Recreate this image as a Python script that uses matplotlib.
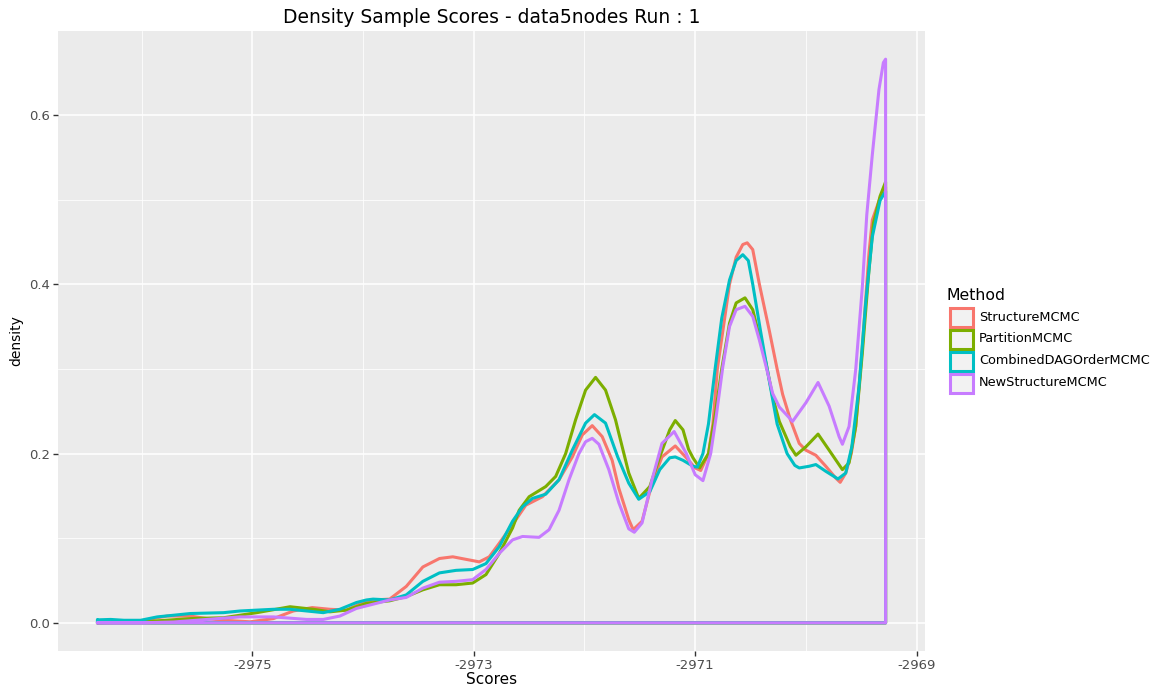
import matplotlib
matplotlib.use("Agg")
import matplotlib.pyplot as plt
from matplotlib.patches import Rectangle
from matplotlib.ticker import FixedLocator

# ---------------- data ----------------
methods = ["StructureMCMC", "PartitionMCMC", "CombinedDAGOrderMCMC", "NewStructureMCMC"]
colors = ["#F8766D", "#7CAE00", "#00BFC4", "#C77CFF"]

structure_mcmc = [
    (-2976.40, 0.000), (-2976.16, 0.0015), (-2976.01, 0.002), (-2975.86, 0.006), (-2975.77, 0.008),
    (-2975.56, 0.008), (-2975.41, 0.005), (-2975.26, 0.003), (-2975.02, 0.0012), (-2974.81, 0.005),
    (-2974.63, 0.014), (-2974.46, 0.018), (-2974.30, 0.016), (-2974.15, 0.015), (-2974.00, 0.024),
    (-2973.91, 0.027), (-2973.76, 0.028), (-2973.61, 0.043), (-2973.46, 0.066), (-2973.31, 0.076),
    (-2973.19, 0.078), (-2973.07, 0.075), (-2972.95, 0.072), (-2972.86, 0.078), (-2972.77, 0.094),
    (-2972.65, 0.116), (-2972.53, 0.139), (-2972.38, 0.149), (-2972.23, 0.169), (-2972.11, 0.196),
    (-2972.02, 0.222), (-2971.93, 0.233), (-2971.84, 0.220), (-2971.75, 0.192), (-2971.69, 0.159),
    (-2971.60, 0.122), (-2971.56, 0.110), (-2971.48, 0.120), (-2971.39, 0.165), (-2971.30, 0.196),
    (-2971.18, 0.209), (-2971.08, 0.195), (-2971.00, 0.183), (-2970.95, 0.180), (-2970.88, 0.200),
    (-2970.84, 0.235), (-2970.80, 0.300), (-2970.75, 0.345), (-2970.69, 0.400), (-2970.63, 0.432),
    (-2970.57, 0.447), (-2970.53, 0.449), (-2970.48, 0.441), (-2970.42, 0.400), (-2970.33, 0.345),
    (-2970.26, 0.300), (-2970.21, 0.270), (-2970.14, 0.240), (-2970.06, 0.212), (-2970.00, 0.204),
    (-2969.91, 0.198), (-2969.82, 0.185), (-2969.73, 0.171), (-2969.69, 0.166), (-2969.64, 0.177),
    (-2969.59, 0.200), (-2969.55, 0.232), (-2969.49, 0.326), (-2969.43, 0.437), (-2969.40, 0.476),
    (-2969.33, 0.502), (-2969.28, 0.515),
]

partition_mcmc = [
    (-2976.40, 0.000), (-2976.01, 0.001), (-2975.56, 0.005), (-2975.26, 0.006), (-2974.96, 0.012),
    (-2974.66, 0.019), (-2974.45, 0.016), (-2974.30, 0.013), (-2974.15, 0.015), (-2973.97, 0.023),
    (-2973.76, 0.026), (-2973.61, 0.031), (-2973.46, 0.039), (-2973.31, 0.045), (-2973.16, 0.045),
    (-2973.01, 0.047), (-2972.89, 0.057), (-2972.77, 0.082), (-2972.65, 0.112), (-2972.59, 0.133),
    (-2972.50, 0.149), (-2972.35, 0.161), (-2972.26, 0.173), (-2972.17, 0.200), (-2972.08, 0.240),
    (-2971.99, 0.275), (-2971.90, 0.290), (-2971.81, 0.275), (-2971.72, 0.240), (-2971.69, 0.224),
    (-2971.60, 0.177), (-2971.51, 0.147), (-2971.41, 0.161), (-2971.32, 0.196), (-2971.23, 0.228),
    (-2971.18, 0.239), (-2971.11, 0.228), (-2971.06, 0.205), (-2971.02, 0.195), (-2970.96, 0.183),
    (-2970.88, 0.200), (-2970.82, 0.245), (-2970.76, 0.300), (-2970.69, 0.354), (-2970.63, 0.378),
    (-2970.55, 0.384), (-2970.48, 0.370), (-2970.42, 0.338), (-2970.36, 0.307), (-2970.30, 0.267),
    (-2970.24, 0.238), (-2970.14, 0.208), (-2970.09, 0.198), (-2970.00, 0.208), (-2969.89, 0.223),
    (-2969.79, 0.204), (-2969.67, 0.181), (-2969.61, 0.189), (-2969.55, 0.232), (-2969.49, 0.319),
    (-2969.43, 0.417), (-2969.39, 0.472), (-2969.33, 0.504), (-2969.28, 0.521),
]

combined_dag_order_mcmc = [
    (-2976.40, 0.0035), (-2976.28, 0.004), (-2976.16, 0.003), (-2976.01, 0.003), (-2975.86, 0.007),
    (-2975.56, 0.011), (-2975.26, 0.012), (-2975.11, 0.014), (-2974.96, 0.015), (-2974.81, 0.016),
    (-2974.66, 0.016), (-2974.51, 0.014), (-2974.36, 0.012), (-2974.21, 0.016), (-2974.06, 0.024),
    (-2973.97, 0.027), (-2973.91, 0.028), (-2973.76, 0.027), (-2973.61, 0.033), (-2973.46, 0.049),
    (-2973.31, 0.059), (-2973.16, 0.062), (-2973.01, 0.063), (-2972.89, 0.070), (-2972.77, 0.090),
    (-2972.65, 0.120), (-2972.56, 0.137), (-2972.47, 0.147), (-2972.35, 0.152), (-2972.23, 0.169),
    (-2972.11, 0.204), (-2971.99, 0.236), (-2971.91, 0.246), (-2971.81, 0.236), (-2971.70, 0.196),
    (-2971.60, 0.165), (-2971.51, 0.146), (-2971.41, 0.155), (-2971.32, 0.181), (-2971.23, 0.195),
    (-2971.18, 0.196), (-2971.11, 0.192), (-2971.02, 0.185), (-2970.98, 0.184), (-2970.93, 0.200),
    (-2970.88, 0.235), (-2970.82, 0.300), (-2970.76, 0.360), (-2970.69, 0.405), (-2970.63, 0.428),
    (-2970.57, 0.435), (-2970.52, 0.428), (-2970.48, 0.400), (-2970.41, 0.345), (-2970.35, 0.300),
    (-2970.26, 0.235), (-2970.17, 0.200), (-2970.10, 0.186), (-2970.06, 0.183), (-2969.97, 0.185),
    (-2969.91, 0.187), (-2969.82, 0.179), (-2969.71, 0.170), (-2969.64, 0.177), (-2969.585, 0.208),
    (-2969.52, 0.279), (-2969.46, 0.378), (-2969.40, 0.456), (-2969.33, 0.499), (-2969.28, 0.510),
]

new_structure_mcmc = [
    (-2976.40, 0.000), (-2976.00, 0.000), (-2975.71, 0.001), (-2975.41, 0.004), (-2975.11, 0.007),
    (-2974.81, 0.007), (-2974.51, 0.004), (-2974.36, 0.004), (-2974.21, 0.008), (-2974.06, 0.017),
    (-2973.91, 0.022), (-2973.76, 0.027), (-2973.61, 0.030), (-2973.46, 0.041), (-2973.31, 0.048),
    (-2973.16, 0.049), (-2973.01, 0.051), (-2972.89, 0.063), (-2972.77, 0.082), (-2972.65, 0.098),
    (-2972.56, 0.102), (-2972.41, 0.101), (-2972.32, 0.110), (-2972.23, 0.133), (-2972.14, 0.169),
    (-2972.05, 0.200), (-2971.99, 0.214), (-2971.93, 0.218), (-2971.87, 0.211), (-2971.78, 0.181),
    (-2971.69, 0.142), (-2971.60, 0.111), (-2971.55, 0.107), (-2971.48, 0.118), (-2971.39, 0.169),
    (-2971.30, 0.212), (-2971.19, 0.226), (-2971.08, 0.200), (-2971.00, 0.175), (-2970.93, 0.168),
    (-2970.86, 0.200), (-2970.81, 0.244), (-2970.75, 0.303), (-2970.69, 0.350), (-2970.63, 0.370),
    (-2970.55, 0.374), (-2970.48, 0.362), (-2970.42, 0.334), (-2970.36, 0.303), (-2970.30, 0.271),
    (-2970.24, 0.255), (-2970.12, 0.238), (-2970.00, 0.260), (-2969.89, 0.284), (-2969.79, 0.256),
    (-2969.70, 0.220), (-2969.67, 0.211), (-2969.61, 0.232), (-2969.55, 0.299), (-2969.49, 0.397),
    (-2969.45, 0.482), (-2969.40, 0.553), (-2969.34, 0.630), (-2969.30, 0.662), (-2969.28, 0.666),
]

series = [structure_mcmc, partition_mcmc, combined_dag_order_mcmc, new_structure_mcmc]

x_major = [-2975, -2973, -2971, -2969]
x_minor = [-2976, -2974, -2972, -2970]
x_labels = ["-2975", "-2973", "-2971", "-2969"]
y_major = [0.0, 0.2, 0.4, 0.6]
y_minor = [0.1, 0.3, 0.5]
y_labels = ["0.0", "0.2", "0.4", "0.6"]

title = "Density Sample Scores - data5nodes Run : 1"
x_title = "Scores"
y_title = "density"
legend_title = "Method"

# ---------------- figure ----------------
W, H = 1167, 686
fig = plt.figure(figsize=(W / 100, H / 100), dpi=100, facecolor="white")
ax = fig.add_axes([58 / W, (H - 651) / H, (925 - 58) / W, (651 - 31) / H])
ax.set_facecolor("#EBEBEB")
for s in ax.spines.values():
    s.set_visible(False)

# data limits with ggplot-like 5% expansion
all_x = [p[0] for s in series for p in s]
all_y = [p[1] for s in series for p in s] + [0.0]
xmin, xmax = min(all_x), max(all_x)
ymin, ymax = min(all_y), max(all_y)
dx, dy = (xmax - xmin) * 0.05, (ymax - ymin) * 0.05
ax.set_xlim(xmin - dx, xmax + dx)
ax.set_ylim(ymin - dy, ymax + dy)

ax.xaxis.set_major_locator(FixedLocator(x_major))
ax.xaxis.set_minor_locator(FixedLocator(x_minor))
ax.yaxis.set_major_locator(FixedLocator(y_major))
ax.yaxis.set_minor_locator(FixedLocator(y_minor))
ax.set_xticklabels(x_labels)
ax.set_yticklabels(y_labels)
ax.grid(which="major", color="white", linewidth=1.1)
ax.grid(which="minor", color="white", linewidth=0.55)
ax.set_axisbelow(True)
ax.tick_params(which="major", length=3.5, width=1.0, color="#333333",
               labelcolor="#4D4D4D", labelsize=9.5, pad=2.5)
ax.tick_params(which="minor", length=0)

for pts, col in zip(series, colors):
    xs = [p[0] for p in pts]
    ys = [p[1] for p in pts]
    px = xs + [xs[-1], xs[0], xs[0]]
    py = ys + [0.0, 0.0, ys[0]]
    ax.plot(px, py, color=col, linewidth=2.2, solid_joinstyle="round",
            solid_capstyle="round")

ax.set_title(title, fontsize=13.5, color="black", pad=6)
ax.set_xlabel(x_title, fontsize=11, color="black", labelpad=0)
ax.set_ylabel(y_title, fontsize=10, color="black", labelpad=4)

# ---------------- legend (placed in figure pixels, ggplot style) ----------------
def fx(px):
    return px / W

def fy(py):
    return 1 - py / H

fig.text(fx(947), fy(295), legend_title, fontsize=11.3, ha="left", va="center",
         color="black")
row_step = 22
first_row = 317
key_left, key_w, key_h = 949.5, 23.5, 19.0
for i, (name, col) in enumerate(zip(methods, colors)):
    cy = first_row + i * row_step
    fig.add_artist(Rectangle((fx(key_left), fy(cy + key_h / 2)), key_w / W, key_h / H,
                             transform=fig.transFigure, facecolor="#F2F2F2",
                             edgecolor=col, linewidth=2.2))
    fig.text(fx(979), fy(cy), name, fontsize=9.3, ha="left", va="center",
             color="black")

fig.savefig("out.png", dpi=100, facecolor="white")
